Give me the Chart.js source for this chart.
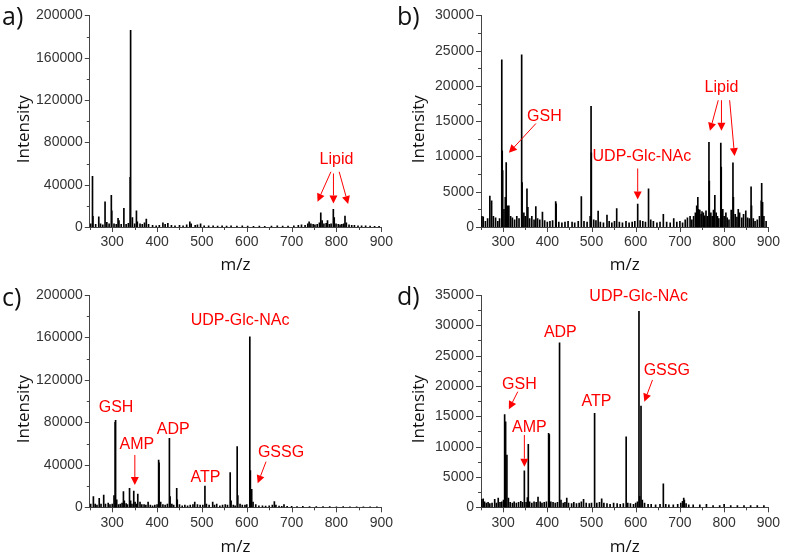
<!DOCTYPE html>
<html><head><meta charset="utf-8">
<script src="https://cdn.jsdelivr.net/npm/chart.js@4.4.1/dist/chart.umd.min.js"></script>
<style>
html,body{margin:0;padding:0;background:#fff;overflow:hidden;width:787px;height:556px;}
.p{position:absolute;}
</style></head><body>
<canvas id="ca" class="p" style="left:0;top:0" width="400" height="285"></canvas>
<canvas id="cb" class="p" style="left:390px;top:0" width="397" height="285"></canvas>
<canvas id="cc" class="p" style="left:0;top:270px" width="400" height="290"></canvas>
<canvas id="cd" class="p" style="left:390px;top:270px" width="397" height="290"></canvas>
<script>
// ---------- DATA (m/z and intensity) ----------
const xTicks = [300, 400, 500, 600, 700, 800, 900];

const aMz  = [252,256,257,263,270,274,279,284,288,293,
              298,299,304,309,313,315,320,326,331,336,
              340,341,345,350,354,356,362,367,372,376,
              381,390,398,405,413,418,424,432,440,450,
              458,466,473,476,485,490,497,505,515,525,
              535,545,555,565,578,590,602,615,628,640,
              655,668,680,692,705,715,722,730,736,739,
              743,748,752,757,762,765,768,772,777,780,
              784,788,793,795,799,804,808,812,816,819,
              822,828,834,840,848,856,865,875,885,895];
const aInt = [3000,48000,10000,2500,9700,3000,2000,23900,4500,3000,
              30000,15400,3000,2500,8200,6000,2500,17600,2500,3500,
              47000,185800,9000,3000,15400,5000,3000,2500,4000,7500,
              2500,1500,1200,1500,4000,2500,3500,1500,1200,1500,
              1000,2000,5000,3000,1500,2000,3000,1200,1000,1000,
              800,1200,800,1000,800,1000,800,700,900,700,
              800,1000,900,800,1200,1500,2000,1500,3000,5000,
              3000,2500,2000,2500,4000,13500,6000,3000,3500,6000,
              2500,3000,16700,9000,3000,2500,2000,2500,3000,10400,
              4000,2000,1500,1500,1200,1000,1000,800,700,600];

const bMz  = [252,255,260,265,270,274,278,283,288,292,
              297,298,299,302,305,307,310,313,317,321,
              326,331,336,342,343,347,350,354,356,360,
              365,370,374,378,383,389,394,400,406,412,
              419,420,426,433,440,447,456,462,470,477,
              483,490,497,499,499.6,505,510,515,520,527,
              535,540,546,552,557,563,570,578,585,592,
              598,604.5,610,616,622,629,634,640,648,655,
              662.5,670,678,686,693,700,706,712,717,723,
              727,731,735,738,740.5,742,745,748,750,753,
              756,759,762,765.7,766.5,770,773,776,779,782,
              785,788,792.5,793.5,797,800,804,807,811,816,
              820,821,825,829,832,835,840,844,849,853,
              857,861,862,866,870,875,880,884,885,887,
              890,895];
const bInt = [1500,1450,800,1200,4400,3700,1500,1300,800,1200,
              23700,10800,8000,2500,4200,9150,3000,3000,1500,1300,
              1000,1500,1200,24400,6300,2000,1500,5400,2800,1200,
              1500,1000,2900,1200,1000,2100,900,700,800,900,
              3600,3300,700,600,700,800,700,600,800,4300,
              800,700,1500,17100,10500,1000,900,2260,700,600,
              1700,800,600,800,2600,700,600,800,600,700,
              800,3250,900,800,700,5400,1000,800,600,700,
              1800,700,600,1200,700,800,600,1000,1300,1500,
              1000,1500,2000,3000,4200,2500,2400,1800,2200,2000,
              1600,2300,1500,12000,6500,2000,1500,2400,4500,2000,
              1500,1200,11900,8500,2500,1500,2000,1300,1000,2400,
              9100,4200,1800,1400,2500,2000,1300,1800,2300,1300,
              1200,5700,3000,1200,800,1000,1500,3700,6200,3500,
              1500,800];

const cMz  = [252,258,262,266,271,275,281,285,291,295,
              300,304,306.5,307.5,310,314,318,322,325,327,
              331,334,338.6,341,344,348,351,354,357,362,
              366,371,375,380,385,390,395,400,403.5,404.5,
              408,413,418,423,427.5,429,433,437,443.8,445,
              450,456,462,468,474,480,484,490,496,502,
              506.7,510,516,524,528,533,540,546,552,557,
              563,565,570,574,578.6,580,585,590,596,600,
              606.8,608,611,614,620,627,635,642,650,657,
              661.5,665,672,678,683,690,700,712,725,740,
              755,770,785,800,815,830,845,860,875,890];
const cInt = [3000,10000,3000,2000,8500,3000,11600,3000,4000,2500,
              3000,11000,80000,82000,7000,2500,3000,4000,14700,6000,
              3500,2500,17900,6000,3000,15300,5000,3000,12500,5000,
              2500,2500,2000,5000,2000,1500,2000,2500,44600,42000,
              5000,2500,2000,3000,65000,10000,3000,2000,17900,7000,
              2500,1500,2000,1500,2000,2500,5000,2500,2000,2000,
              20000,3000,2000,5000,2000,3000,1500,2000,2500,2000,
              32600,6000,2000,1500,57100,11000,3000,2000,2000,2500,
              160700,34500,17000,5000,2500,1500,1500,1200,1500,2000,
              5500,2000,1200,1000,2500,800,800,700,800,600,
              700,600,600,500,600,500,500,500,500,400];

const dMz  = [252,255,258,262,266,270,275,281,285,289,
              293,297,301,303.5,305.7,308.6,312,316,321,325,
              330,335,340,344,348.1,352,355,357,360,365,
              370,375,379,384,388,393,398,403,404.5,408,
              413,418,423,427.7,431,436,440,444,448,455,
              460,466,472,477,482,488,495,500,507,512,
              518,523,528,535,542,550,558,565,572,578.4,
              582,588,595,600,604,607.4,609,612,615,620,
              628,635,645,655,662.5,668,675,685,695,702,
              706,708.6,710,714,720,730,745,760,775,790,
              800,815,830,845,860,875,890];
const dInt = [1300,1400,900,700,800,600,700,1300,700,1500,
              800,900,1200,15300,14100,8600,1500,800,700,900,
              700,800,1000,800,6000,800,1600,10400,900,700,
              900,800,1700,900,700,800,900,12200,12000,900,
              800,700,800,27100,1200,700,800,1500,700,600,
              800,600,700,900,1300,700,600,700,15500,700,
              800,1400,700,600,500,700,600,500,600,11600,
              700,600,500,700,900,32300,1800,16700,1200,700,
              500,500,400,500,3850,500,400,400,500,700,
              1000,1500,1200,600,400,400,400,500,300,300,
              500,300,300,300,300,300,300];

// annotation labels and arrows (data coordinates: m/z, intensity)
const aNotes  = [{text:'Lipid', mz:800, y:64100}];
const aArrows = [[787.6,52200,757.8,23900],[793.3,50600,793.3,22300],[806,52200,826,21700]];

const bNotes  = [{text:'GSH', mz:393.5, y:15700},{text:'UDP-Glc-NAc', mz:614, y:9950},{text:'Lipid', mz:794, y:19740}];
const bArrows = [[374.2,14670,313.1,10510],[604.5,8300,604.5,3900],
                 [786.7,17970,768,13630],[794,17970,794,13630],[812.5,17970,823.7,10050]];

const cNotes  = [{text:'GSH', mz:308.5, y:94000},{text:'AMP', mz:355, y:59400},{text:'ADP', mz:436, y:73600},
                 {text:'ATP', mz:508, y:28000},{text:'UDP-Glc-NAc', mz:585, y:175700},{text:'GSSG', mz:676.4, y:51600}];
const cArrows = [[350.4,49300,350.4,21000],[643,43000,624.4,22600]];

const dNotes  = [{text:'GSH', mz:337, y:20300},{text:'AMP', mz:359.3, y:13160},{text:'ADP', mz:429.5, y:28820},
                 {text:'ATP', mz:511, y:17400},{text:'UDP-Glc-NAc', mz:606.7, y:34760},{text:'GSSG', mz:670.3, y:22500}];
const dArrows = [[333.2,19060,313.1,16160],[348.1,11920,348.1,6700],[638,21000,619.5,17400]];

// ---------- CHARTS ----------
Chart.defaults.font.family = "'Liberation Sans', Arial, sans-serif";
Chart.defaults.color = '#333';

const RED = '#ff0000';

function drawArrow(ctx, x1, y1, x2, y2) {
  const ang = Math.atan2(y2 - y1, x2 - x1);
  const L = 8, W = 4;
  const bx = x2 - L * Math.cos(ang), by = y2 - L * Math.sin(ang);
  ctx.beginPath(); ctx.moveTo(x1, y1); ctx.lineTo(bx, by); ctx.stroke();
  ctx.beginPath(); ctx.moveTo(x2, y2);
  ctx.lineTo(bx + W * Math.sin(ang), by - W * Math.cos(ang));
  ctx.lineTo(bx - W * Math.sin(ang), by + W * Math.cos(ang));
  ctx.closePath(); ctx.fill();
}

const decor = {
  id: 'decor',
  afterDraw(chart, args, o) {
    const ctx = chart.ctx, xs = chart.scales.x, ys = chart.scales.y, ca = chart.chartArea;
    ctx.save();
    // tick marks (outward, major + minor)
    ctx.strokeStyle = '#444'; ctx.lineWidth = 1;
    ctx.beginPath();
    for (let v = 250; v <= 900; v += 50) {
      const px = Math.round(xs.getPixelForValue(v)) + 0.5;
      const len = (v % 100 === 0) ? 5 : 3;
      ctx.moveTo(px, ca.bottom); ctx.lineTo(px, ca.bottom + len);
    }
    const half = o.yStep / 2;
    for (let v = 0; v <= o.yMax + 1e-6; v += half) {
      const py = Math.round(ys.getPixelForValue(v)) + 0.5;
      const len = (Math.round(v / half) % 2 === 0) ? 5 : 3;
      ctx.moveTo(ca.left, py); ctx.lineTo(ca.left - len, py);
    }
    ctx.stroke();
    // axis titles
    ctx.fillStyle = '#111';
    ctx.font = "17px 'Open Sans', 'Noto Sans', sans-serif";
    ctx.textAlign = 'center'; ctx.textBaseline = 'middle';
    ctx.fillText('m/z', (ca.left + ca.right) / 2, o.xTitleY);
    ctx.save();
    ctx.translate(o.yTitleX, (ca.top + ca.bottom) / 2 + 8);
    ctx.rotate(-Math.PI / 2);
    ctx.fillText('Intensity', 0, 0);
    ctx.restore();
    // panel letter
    ctx.font = "25px 'Open Sans', 'Noto Sans', sans-serif";
    ctx.textAlign = 'left'; ctx.textBaseline = 'alphabetic';
    ctx.fillText(o.letter, o.letterX, o.letterY);
    // annotations
    ctx.fillStyle = RED; ctx.strokeStyle = RED; ctx.lineWidth = 1;
    ctx.font = "16px 'Liberation Sans', Arial, sans-serif";
    ctx.textAlign = 'center'; ctx.textBaseline = 'middle';
    o.notes.forEach(n => ctx.fillText(n.text, xs.getPixelForValue(n.mz), ys.getPixelForValue(n.y)));
    o.arrows.forEach(a => drawArrow(ctx, xs.getPixelForValue(a[0]), ys.getPixelForValue(a[1]),
                                         xs.getPixelForValue(a[2]), ys.getPixelForValue(a[3])));
    ctx.restore();
  }
};

function makePanel(id, mz, inten, yMax, yStep, notes, arrows, lay) {
  const data = mz.map((m, i) => ({x: m, y: inten[i]}));
  new Chart(document.getElementById(id), {
    type: 'bar',
    data: {datasets: [{data, backgroundColor: '#000', borderWidth: 0, barThickness: 1, grouped: false}]},
    options: {
      responsive: false, animation: false, devicePixelRatio: 1, events: [],
      layout: {padding: {top: lay.padTop, right: lay.padRight, left: 0, bottom: 0}},
      plugins: {legend: {display: false}, tooltip: {enabled: false},
        decor: {yMax, yStep, notes, arrows, letter: lay.letter, letterX: lay.letterX, letterY: lay.letterY,
                xTitleY: lay.xTitleY, yTitleX: lay.yTitleX}},
      scales: {
        x: {type: 'linear', min: 250, max: 900, offset: false,
            grid: {display: false, drawTicks: false, offset: false},
            border: {display: true, color: '#444', width: 1},
            afterBuildTicks: s => { s.ticks = xTicks.map(v => ({value: v})); },
            ticks: {stepSize: 100, padding: 7, color: '#333', font: {size: 14}, maxRotation: 0, autoSkip: false,
                    callback: v => String(v)},
            afterFit: s => { s.height = lay.xH; }},
        y: {type: 'linear', min: 0, max: yMax,
            grid: {display: false, drawTicks: false},
            border: {display: true, color: '#444', width: 1},
            ticks: {stepSize: yStep, padding: 7, color: '#333', font: {size: 14}, callback: v => String(v)},
            afterFit: s => { s.width = lay.yW; }}
      }
    },
    plugins: [decor]
  });
}

makePanel('ca', aMz, aInt, 200000, 40000, aNotes, aArrows,
  {padTop: 15, padRight: 17.7, xH: 58, yW: 89.8, letter: 'a)', letterX: 2, letterY: 25, xTitleY: 265, yTitleX: 24.5});
makePanel('cb', bMz, bInt, 30000, 5000, bNotes, bArrows,
  {padTop: 15, padRight: 14.7, xH: 58, yW: 91, letter: 'b)', letterX: 7, letterY: 25, xTitleY: 265, yTitleX: 29});
makePanel('cc', cMz, cInt, 200000, 40000, cNotes, cArrows,
  {padTop: 25, padRight: 17.7, xH: 52.7, yW: 89.8, letter: 'c)', letterX: 2, letterY: 36, xTitleY: 277, yTitleX: 24.5});
makePanel('cd', dMz, dInt, 35000, 5000, dNotes, dArrows,
  {padTop: 25, padRight: 14.7, xH: 52.7, yW: 91, letter: 'd)', letterX: 7, letterY: 35, xTitleY: 277, yTitleX: 29});
</script>
</body></html>
